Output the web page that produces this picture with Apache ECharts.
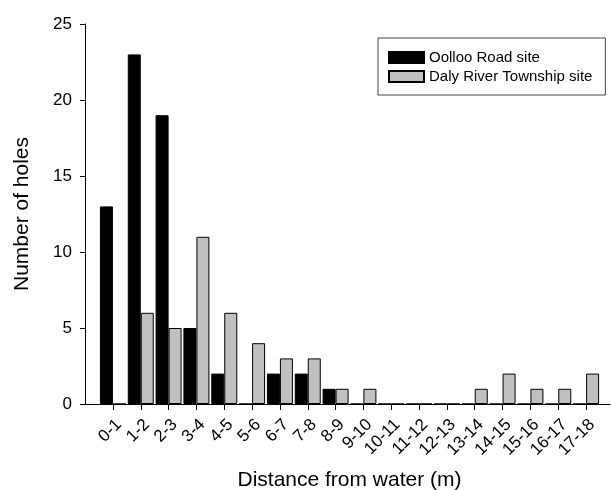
<!DOCTYPE html>
<html>
<head>
<meta charset="utf-8">
<script src="https://cdn.jsdelivr.net/npm/echarts@6/dist/echarts.min.js"></script>
<style>
    html, body { margin: 0; padding: 0; background: #fff; }
    #main { width: 611px; height: 490px; }
</style>
</head>
<body>
<div id="main"></div>
<script>
var categories = ['0-1', '1-2', '2-3', '3-4', '4-5', '5-6', '6-7', '7-8', '8-9', '9-10',
    '10-11', '11-12', '12-13', '13-14', '14-15', '15-16', '16-17', '17-18'];
var oollooRoad = [13, 23, 19, 5, 2, 0, 2, 2, 1, 0, 0, 0, 0, 0, 0, 0, 0, 0];
var dalyRiver = [0, 6, 5, 11, 6, 4, 3, 3, 1, 1, 0, 0, 0, 1, 2, 1, 1, 2];
var yTicks = [0, 5, 10, 15, 20, 25];

~function () {
    var myChart = echarts.init(document.getElementById('main'));
    var font = 'Liberation Sans, Arial, sans-serif';
    var option = {
        backgroundColor: '#fff',
        animation: false,
        textStyle: {fontFamily: font, color: '#000'},
        legend: {
            orient: 'vertical',
            left: 378,
            top: 38,
            padding: [12, 13, 11, 10],
            itemWidth: 35,
            itemHeight: 11,
            itemGap: 4,
            icon: 'rect',
            borderColor: '#444',
            borderWidth: 1,
            textStyle: {fontFamily: font, fontSize: 15, color: '#000'},
            data: ['Oolloo Road site', 'Daly River Township site']
        },
        grid: [
            // axis frame: y axis + full-length x axis line
            {left: 85, right: 1, top: 24, bottom: 86, outerBoundsMode: 'none', containLabel: false},
            // bars, shifted so the categories sit where the original ticks are
            {left: 99, right: 11, top: 24, bottom: 86, outerBoundsMode: 'none', containLabel: false}
        ],
        xAxis: [
            {
                type: 'value',
                gridIndex: 0,
                min: 0,
                max: 1,
                axisLine: {show: true, lineStyle: {color: '#000', width: 1}},
                axisTick: {show: false},
                axisLabel: {show: false},
                splitLine: {show: false}
            },
            {
                type: 'category',
                gridIndex: 1,
                data: categories,
                axisLine: {show: false},
                axisTick: {show: true, alignWithLabel: true, interval: 0, length: 6,
                    lineStyle: {color: '#000'}},
                axisLabel: {interval: 0, rotate: 45, margin: 12, fontSize: 17,
                    align: 'right', verticalAlign: 'top',
                    fontFamily: font, color: '#000'},
                name: 'Distance from water (m)',
                nameLocation: 'middle',
                nameGap: 66,
                nameTextStyle: {fontSize: 21, fontFamily: font, color: '#000'}
            }
        ],
        yAxis: [
            {
                type: 'value',
                gridIndex: 0,
                min: yTicks[0],
                max: yTicks[yTicks.length - 1],
                interval: 5,
                axisLine: {show: true, lineStyle: {color: '#000', width: 1}},
                axisTick: {show: true, length: 5, lineStyle: {color: '#000'}},
                axisLabel: {margin: 13, fontSize: 17, fontFamily: font, color: '#000'},
                splitLine: {show: false},
                name: 'Number of holes',
                nameLocation: 'middle',
                nameGap: 52,
                nameTextStyle: {fontSize: 21, fontFamily: font, color: '#000'}
            },
            {
                type: 'value',
                gridIndex: 1,
                min: yTicks[0],
                max: yTicks[yTicks.length - 1],
                show: false
            }
        ],
        series: [
            {
                name: 'Oolloo Road site',
                type: 'bar',
                xAxisIndex: 1,
                yAxisIndex: 1,
                barWidth: 13,
                barGap: '0%',
                itemStyle: {color: '#000', borderColor: '#000', borderWidth: 1},
                data: oollooRoad
            },
            {
                name: 'Daly River Township site',
                type: 'bar',
                xAxisIndex: 1,
                yAxisIndex: 1,
                barWidth: 13,
                barGap: '0%',
                itemStyle: {color: '#c0c0c0', borderColor: '#000', borderWidth: 1},
                data: dalyRiver
            }
        ]
    };
    myChart.setOption(option);
}();
</script>
</body>
</html>
